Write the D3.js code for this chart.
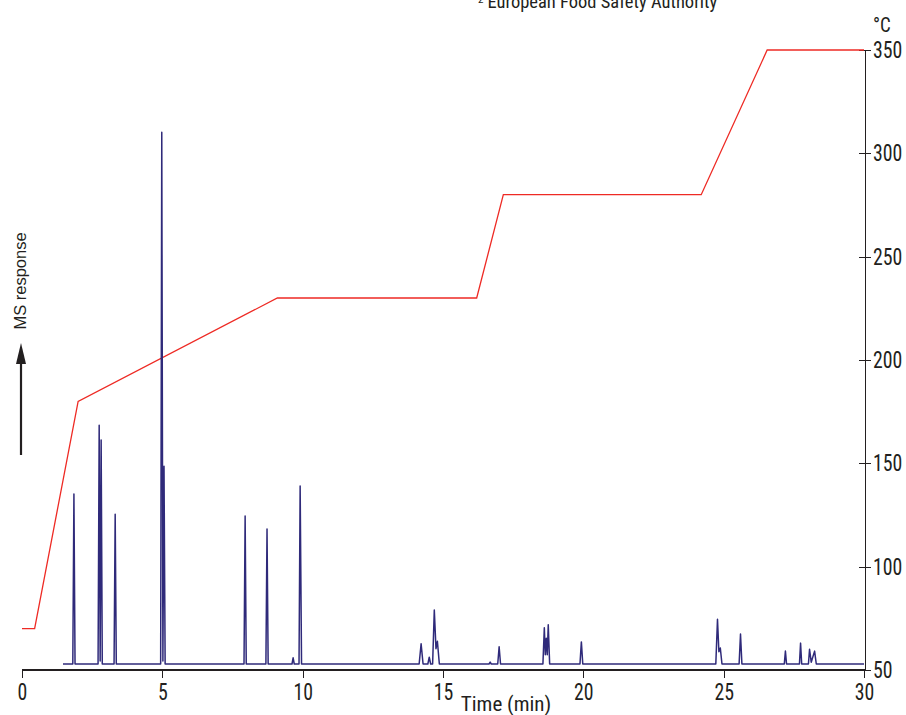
<!DOCTYPE html>
<html>
<head>
    <meta charset="utf-8">
    <title>GC-MS chromatogram with oven temperature program</title>
    <script src="https://d3js.org/d3.v7.min.js"></script>
    <style>
        body {
            margin: 0;
            background-color: white;
        }
        svg {
            display: block;
        }
        .cond {
            font-family: "Liberation Sans Narrow", "Roboto Condensed", "Arial Narrow", Roboto, sans-serif;
            fill: #231f20;
        }
        .axis path,
        .axis line {
            stroke: #231f20;
            stroke-width: 1.2px;
            shape-rendering: crispEdges;
        }
        .temp-line {
            fill: none;
            stroke: #ee2a24;
            stroke-width: 1.3px;
        }
        .trace {
            fill: none;
            stroke: #2f2a7a;
            stroke-width: 1.5px;
            stroke-linejoin: round;
        }
    </style>
</head>
<body>
    <svg width="906" height="715"></svg>

    <script>
        // Oven temperature program: time (min), temperature (°C)
        const tempTimes = [0, 0.45, 2.0, 9.1, 16.2, 17.15, 24.2, 26.55, 30];
        const tempValues = [70, 70, 180, 230, 230, 280, 280, 350, 350];

        // Chromatogram trace: time (min), MS response (arbitrary units)
        const traceTimes = [
            1.46, 1.81, 1.85, 1.89,
            2.71, 2.75, 2.785, 2.82, 2.86,
            3.28, 3.32, 3.36,
            4.94, 4.98, 5.02, 5.06, 5.10,
            7.91, 7.95, 7.99,
            8.69, 8.73, 8.77,
            9.62, 9.66, 9.70,
            9.87, 9.91, 9.96,
            14.15, 14.22, 14.29,
            14.46, 14.51, 14.56,
            14.63, 14.69, 14.75, 14.80, 14.87,
            16.64, 16.68, 16.72,
            16.95, 17.00, 17.05,
            18.56, 18.61, 18.645, 18.68, 18.715, 18.75, 18.80,
            19.88, 19.93, 19.98,
            24.72, 24.78, 24.83, 24.88, 24.94,
            25.55, 25.60, 25.65,
            27.16, 27.20, 27.24,
            27.70, 27.74, 27.78,
            28.02, 28.06, 28.12, 28.24, 28.30,
            30
        ];
        const traceValues = [
            0, 0, 27.7, 0,
            0, 38.9, 0.5, 36.5, 0,
            0, 24.4, 0,
            0, 86.6, 0.5, 32.2, 0,
            0, 24.1, 0,
            0, 22.0, 0,
            0, 1.0, 0,
            0, 29.0, 0,
            0, 3.3, 0,
            0, 1.1, 0,
            0, 8.8, 2.5, 3.7, 0,
            0, 0.3, 0,
            0, 2.8, 0,
            0, 5.9, 1.5, 4.2, 1.5, 6.4, 0,
            0, 3.6, 0,
            0, 7.3, 2.0, 2.6, 0,
            0, 4.9, 0,
            0, 2.1, 0,
            0, 3.4, 0,
            0, 2.4, 0.3, 2.1, 0,
            0
        ];

        const xTicks = [0, 5, 10, 15, 20, 25, 30];
        const tempTicks = [50, 100, 150, 200, 250, 300, 350];

        const svg = d3.select("svg");

        const x = d3.scaleLinear().domain([0, 30]).range([22, 864]);
        const yTemp = d3.scaleLinear().domain([50, 350]).range([670, 50]);
        const yResp = d3.scaleLinear().domain([0, 100]).range([664, 50]);

        // Bottom axis
        const xAxis = svg.append("g")
            .attr("class", "axis cond")
            .attr("transform", "translate(0,670)")
            .call(d3.axisBottom(x).tickValues(xTicks).tickSize(8).tickSizeOuter(0).tickPadding(6));
        xAxis.select(".domain").attr("d", `M${x(0)},0H${x(30) + 1}`);
        xAxis.selectAll("text")
            .attr("font-size", "23px")
            .attr("fill", "#231f20")
            .attr("font-family", null)
            .attr("transform", "scale(0.86,1)");

        // Right axis (temperature), ticks cross the line
        const yAxis = svg.append("g")
            .attr("class", "axis cond")
            .attr("transform", `translate(${x(30) + 1},0)`)
            .call(d3.axisRight(yTemp).tickValues(tempTicks).tickSize(6).tickSizeOuter(0).tickPadding(2));
        yAxis.selectAll(".tick line").attr("x1", -6);
        yAxis.selectAll("text")
            .attr("font-size", "23px")
            .attr("fill", "#231f20")
            .attr("font-family", null)
            .attr("x", 8 / 0.86)
            .attr("transform", "scale(0.86,1)");

        svg.append("text")
            .attr("class", "cond")
            .attr("transform", "translate(873,32) scale(0.9,1)")
            .attr("font-size", "21px")
            .text("°C");

        svg.append("text")
            .attr("class", "cond")
            .attr("x", 506)
            .attr("y", 711)
            .attr("text-anchor", "middle")
            .attr("font-size", "21px")
            .text("Time (min)");

        // Footnote at the top, partly cut off as in the source page
        const note = svg.append("text")
            .attr("class", "cond")
            .attr("x", 478)
            .attr("y", 8)
            .attr("font-size", "18.5px");
        note.append("tspan").attr("font-size", "11px").attr("dy", -5).text("2");
        note.append("tspan").attr("dx", 4).attr("dy", 5).text("European Food Safety Authority");

        // MS response label with arrow
        svg.append("text")
            .attr("transform", "translate(26,281) rotate(-90)")
            .attr("text-anchor", "middle")
            .attr("font-family", "Liberation Sans, Arial, sans-serif")
            .attr("font-size", "16.5px")
            .attr("fill", "#231f20")
            .text("MS response");

        svg.append("line")
            .attr("x1", 21).attr("x2", 21)
            .attr("y1", 455).attr("y2", 358)
            .attr("stroke", "#231f20")
            .attr("stroke-width", 2.2);
        svg.append("path")
            .attr("d", "M21,343L26,364L16,364Z")
            .attr("fill", "#231f20");

        // Temperature program
        const tempData = tempTimes.map((t, i) => ({ t: t, v: tempValues[i] }));
        svg.append("path")
            .datum(tempData)
            .attr("class", "temp-line")
            .attr("d", d3.line().x(d => x(d.t)).y(d => yTemp(d.v)));

        // Chromatogram
        const traceData = traceTimes.map((t, i) => ({ t: t, v: traceValues[i] }));
        svg.append("path")
            .datum(traceData)
            .attr("class", "trace")
            .attr("d", d3.line().x(d => x(d.t)).y(d => yResp(d.v)));
    </script>
</body>
</html>
